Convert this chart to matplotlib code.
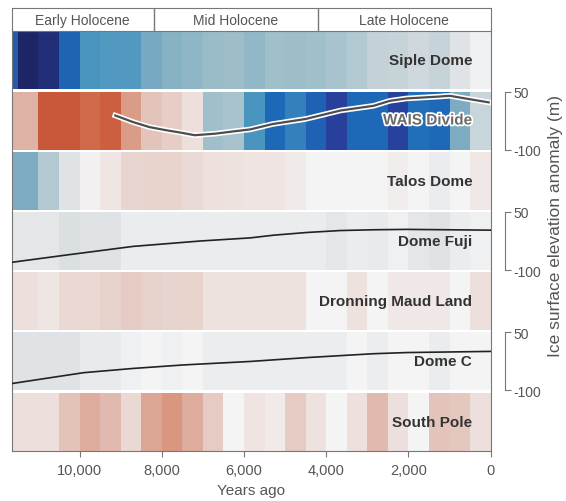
import numpy as np
import matplotlib
matplotlib.use("Agg")
import matplotlib.pyplot as plt
import matplotlib.patheffects as pe
from matplotlib.colors import LinearSegmentedColormap

plt.rcParams['font.family'] = ['Liberation Sans', 'DejaVu Sans']
plt.rcParams['axes.unicode_minus'] = False

# bin edges in years ago (500-yr bins, the oldest one is partial)
BIN_EDGES = [11650, 11500, 11000, 10500, 10000, 9500, 9000, 8500, 8000,
             7500, 7000, 6500, 6000, 5500, 5000, 4500, 4000, 3500, 3000,
             2500, 2000, 1500, 1000, 500, 0]

SITES = ["Siple Dome", "WAIS Divide", "Talos Dome", "Dome Fuji",
         "Dronning Maud Land", "Dome C", "South Pole"]

# normalised temperature anomaly per bin (-1 cold/blue .. 1 warm/red)
siple = [-0.75, -1.0, -0.95, -0.72, -0.55, -0.53, -0.53, -0.42, -0.37, -0.35,
         -0.32, -0.31, -0.34, -0.30, -0.31, -0.30, -0.28, -0.25, -0.20, -0.19,
         -0.16, -0.19, -0.10, -0.03]
wais = [0.35, 0.35, 0.80, 0.80, 0.68, 0.75, 0.45, 0.27, 0.22, 0.12,
        -0.30, -0.28, -0.55, -0.70, -0.62, -0.73, -0.85, -0.70, -0.70, -0.84,
        -0.68, -0.70, -0.40, -0.18]
talos = [-0.40, -0.40, -0.25, -0.10, 0.03, 0.08, 0.18, 0.20, 0.20, 0.16,
         0.11, 0.10, 0.09, 0.09, 0.06, 0.0, 0.0, 0.0, 0.0, 0.04,
         0.0, -0.05, 0.0, 0.07]
fuji = [-0.08, -0.08, -0.08, -0.12, -0.10, -0.10, -0.05, -0.05, -0.05, -0.05,
        -0.05, -0.05, -0.05, -0.05, -0.05, -0.05, -0.08, -0.05, -0.06, -0.03,
        -0.08, -0.10, -0.05, -0.03]
dml = [0.12, 0.12, 0.08, 0.17, 0.17, 0.21, 0.24, 0.21, 0.19, 0.20,
       0.10, 0.10, 0.10, 0.10, 0.10, 0.0, 0.0, 0.10, 0.0, 0.07,
       0.07, 0.07, 0.0, 0.12]
domec = [-0.10, -0.10, -0.10, -0.10, -0.06, -0.06, -0.03, 0.0, -0.03, 0.0,
         -0.04, -0.04, -0.04, -0.04, -0.04, -0.04, -0.04, 0.0, -0.04, 0.0,
         0.0, -0.05, 0.0, 0.0]
south_pole = [0.12, 0.12, 0.12, 0.28, 0.38, 0.32, 0.17, 0.40, 0.47, 0.38,
              0.24, 0.0, 0.09, 0.06, 0.24, 0.10, 0.0, 0.11, 0.32, 0.12,
              0.0, 0.27, 0.25, 0.12]

# ice surface elevation anomaly (m)
wais_elev_years = [9130, 8700, 8300, 7900, 7500, 7200, 6700, 6250, 5850, 5300,
                   4500, 3650, 2850, 2450, 2050, 1250, 1000, 450, 50]
wais_elev = [-12, -29, -42, -50, -57, -63, -59, -53, -48, -34,
             -21, 1, 13, 26, 32, 37, 39, 29, 22]
fuji_elev_years = [11640, 10300, 8700, 7060, 5850, 5280, 4470, 3660, 2850, 2040, 0]
fuji_elev = [-80, -61, -39, -25, -17, -10, -3, 2, 4, 5, 3]
domec_elev_years = [11640, 10710, 9900, 8690, 7470, 5850, 4470, 2850, 2040, 0]
domec_elev = [-82, -67, -54, -43, -34, -25, -15, -5, -2, 1]

PERIODS = ["Early Holocene", "Mid Holocene", "Late Holocene"]
PERIOD_EDGES = [11650, 8200, 4200, 0]
TICK_YEARS = [10000, 8000, 6000, 4000, 2000, 0]
TICK_LABELS = ["10,000", "8,000", "6,000", "4,000", "2,000", "0"]

GRAY = '#777777'
TEXT = '#555555'

cmap = LinearSegmentedColormap.from_list('holo', [
    (0.000, '#1d2566'), (0.075, '#28409b'), (0.150, '#1d6ab8'),
    (0.225, '#4a96c0'), (0.300, '#7eadc2'), (0.350, '#a0bfca'),
    (0.400, '#c4d2d8'), (0.450, '#e0e3e5'), (0.500, '#f4f5f6'),
    (0.550, '#eee2df'), (0.600, '#e8d3cd'), (0.675, '#deb3a5'),
    (0.750, '#d89078'), (0.825, '#d1704f'), (0.900, '#c9583a'),
    (1.000, '#b84a30')])


def main():
    fig = plt.figure(figsize=(5.66, 5.02), dpi=100)
    ax = fig.add_axes([0.0207, 0.1002, 0.8463, 0.8355])

    gap = 0.038
    total = len(SITES) + (len(SITES) - 1) * gap
    rows = [siple, wais, talos, fuji, dml, domec, south_pole]
    tops = []
    for i, (name, vals) in enumerate(zip(SITES, rows)):
        top = total - i * (1 + gap)
        bottom = top - 1
        tops.append(top)
        ax.pcolormesh(BIN_EDGES, [bottom, top], np.array([vals]),
                      cmap=cmap, vmin=-1, vmax=1, shading='flat')
        txt = ax.text(450, top - 0.5, name, ha='right', va='center',
                      fontsize=11, fontweight='bold', color='#333333')
        if name == "WAIS Divide":
            txt.set_color('#6a6a6a')
            txt.set_path_effects([pe.withStroke(linewidth=2.5, foreground='white')])

    ax.set_xlim(BIN_EDGES[0], BIN_EDGES[-1])
    ax.set_ylim(0, total)
    ax.set_yticks([])
    ax.set_xticks(TICK_YEARS)
    ax.set_xticklabels(TICK_LABELS)
    ax.tick_params(axis='x', length=4, color=GRAY, labelcolor=TEXT,
                   labelsize=10.5, pad=5)
    ax.spines['top'].set_visible(False)
    for s in ['left', 'right', 'bottom']:
        ax.spines[s].set_color(GRAY)
    ax.set_xlabel("Years ago", fontsize=11, color=TEXT, labelpad=4)

    # elevation curves with their own scale brackets
    lines = [(1, wais_elev_years, wais_elev, True),
             (3, fuji_elev_years, fuji_elev, False),
             (5, domec_elev_years, domec_elev, False)]
    for row, yrs, elev, halo in lines:
        bottom = tops[row] - 1
        ins = ax.inset_axes([0, bottom / total, 1, 1 / total])
        ins.patch.set_visible(False)
        ins.set_xlim(BIN_EDGES[0], BIN_EDGES[-1])
        ins.set_ylim(-100, 50)
        ins.set_xticks([])
        for s in ['left', 'top', 'bottom']:
            ins.spines[s].set_visible(False)
        ins.spines['right'].set_position(('outward', 10))
        ins.spines['right'].set_color(GRAY)
        ins.yaxis.tick_right()
        ins.set_yticks([-100, 50])
        ins.tick_params(axis='y', length=4, color=GRAY, labelcolor=TEXT,
                        labelsize=10, pad=2)
        if halo:
            ins.plot(yrs, elev, color='#4d4d4d', lw=1.6,
                     path_effects=[pe.Stroke(linewidth=4, foreground='white'), pe.Normal()])
        else:
            ins.plot(yrs, elev, color='#222222', lw=1.2)

    fig.text(0.981, 0.55, "Ice surface elevation anomaly (m)", rotation=90,
             ha='center', va='center', fontsize=12.5, color=TEXT)

    # period header
    hx = fig.add_axes([0.0207, 0.9357, 0.8463, 0.0464])
    hx.set_xlim(BIN_EDGES[0], BIN_EDGES[-1])
    hx.set_ylim(0, 1)
    hx.set_xticks([])
    hx.set_yticks([])
    for s in hx.spines.values():
        s.set_color(GRAY)
    for edge in PERIOD_EDGES[1:-1]:
        hx.axvline(edge, color=GRAY, lw=1)
    for label, a, b in zip(PERIODS, PERIOD_EDGES[:-1], PERIOD_EDGES[1:]):
        hx.text((a + b) / 2, 0.5, label, ha='center', va='center',
                fontsize=10, color=TEXT)

    fig.savefig("out.png", dpi=100, facecolor='white')


main()
